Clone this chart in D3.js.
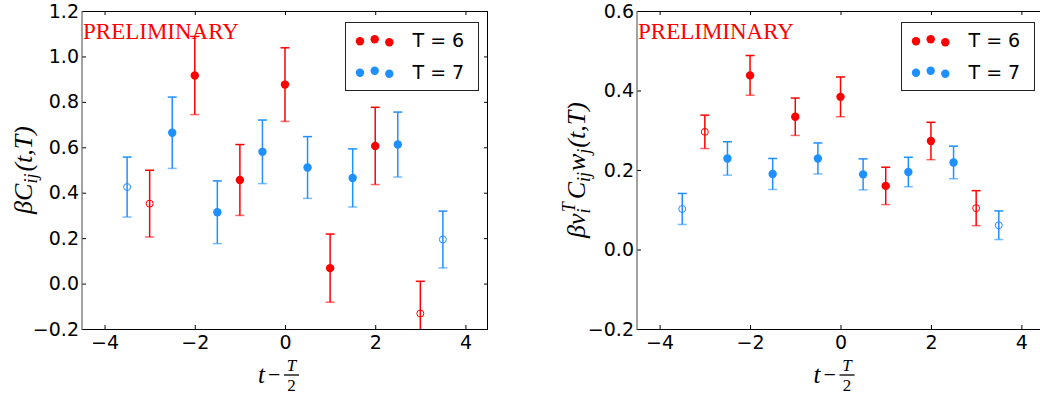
<!DOCTYPE html>
<html>
<head>
<meta charset="utf-8">
<script src="https://cdn.jsdelivr.net/npm/d3@7"></script>
<style>
  body { margin: 0; background: #fff; }
</style>
</head>
<body>
<svg id="chart" width="1040" height="399" font-family="DejaVu Sans, sans-serif"></svg>
<script>
// t - T/2 positions for each series
const tT6 = [-3, -2, -1, 0, 1, 2, 3]
const tT7 = [-3.5, -2.5, -1.5, -0.5, 0.5, 1.5, 2.5, 3.5]
// points drawn as hollow circles
const hollowT6 = [-3, 3]
const hollowT7 = [-3.5, 3.5]

// left panel: beta C_ij(t,T)
const leftT6 = [0.352, 0.916, 0.456, 0.876, 0.068, 0.606, -0.132]
const leftT6Err = [0.147, 0.172, 0.156, 0.162, 0.150, 0.170, 0.142]
const leftT7 = [0.425, 0.664, 0.314, 0.580, 0.511, 0.465, 0.612, 0.194]
const leftT7Err = [0.132, 0.157, 0.138, 0.140, 0.136, 0.128, 0.143, 0.125]

// right panel: beta v_i^T C_ij w_j(t,T)
const rightT6 = [0.296, 0.438, 0.334, 0.384, 0.160, 0.273, 0.104]
const rightT6Err = [0.042, 0.050, 0.047, 0.050, 0.047, 0.047, 0.044]
const rightT7 = [0.102, 0.229, 0.190, 0.229, 0.189, 0.195, 0.219, 0.061]
const rightT7Err = [0.039, 0.042, 0.039, 0.039, 0.039, 0.037, 0.041, 0.036]

const xTicks = [-4, -2, 0, 2, 4]
const leftYTicks = [-0.2, 0.0, 0.2, 0.4, 0.6, 0.8, 1.0, 1.2]
const rightYTicks = [-0.2, 0.0, 0.2, 0.4, 0.6]
const legendLabels = ["T = 6", "T = 7"]

const red = "#ff0000"
const blue = "#1e90ff"
const serif = "Liberation Serif, Times New Roman, serif"

const svg = d3.select("#chart")

const panels = [
  { id: "l", left: 82, right: 488, top: 11, bottom: 329, ydom: [-0.2, 1.2], yticks: leftYTicks,
    s6: leftT6, e6: leftT6Err, s7: leftT7, e7: leftT7Err, ylabX: 32 },
  { id: "r", left: 637, right: 1044, top: 11, bottom: 329, ydom: [-0.2, 0.6], yticks: rightYTicks,
    s6: rightT6, e6: rightT6Err, s7: rightT7, e7: rightT7Err, ylabX: 585 }
]

panels.forEach(p => {
  const x = d3.scaleLinear().domain([-4.5, 4.5]).range([p.left, p.right])
  const y = d3.scaleLinear().domain(p.ydom).range([p.bottom, p.top])
  const g = svg.append("g")

  // clip for data marks
  svg.append("defs").append("clipPath").attr("id", "clip-" + p.id)
    .append("rect")
    .attr("x", p.left).attr("y", p.top)
    .attr("width", p.right - p.left).attr("height", p.bottom - p.top)

  // axes, ticks pointing inward on all four sides
  const fmt = d3.format(".1f")
  const axB = g.append("g").attr("transform", `translate(0,${p.bottom})`)
    .call(d3.axisBottom(x).tickValues(xTicks).tickFormat(d3.format("d"))
      .tickSizeInner(-4).tickSizeOuter(0).tickPadding(7))
  const axT = g.append("g").attr("transform", `translate(0,${p.top})`)
    .call(d3.axisTop(x).tickValues(xTicks).tickFormat("").tickSizeInner(-4).tickSizeOuter(0))
  const axL = g.append("g").attr("transform", `translate(${p.left},0)`)
    .call(d3.axisLeft(y).tickValues(p.yticks).tickFormat(fmt)
      .tickSizeInner(-4).tickSizeOuter(0).tickPadding(3))
  const axR = g.append("g").attr("transform", `translate(${p.right},0)`)
    .call(d3.axisRight(y).tickValues(p.yticks).tickFormat("").tickSizeInner(-4).tickSizeOuter(0))

  ;[axB, axT, axL, axR].forEach(a => {
    a.attr("font-family", "DejaVu Sans, sans-serif").attr("font-size", 19)
    a.select(".domain").remove()
    a.selectAll(".tick line").attr("stroke", "#000").attr("stroke-width", 1)
    a.selectAll(".tick text").attr("fill", "#000")
  })

  // frame
  g.append("line").attr("x1", p.left).attr("x2", p.right).attr("y1", p.top + 0.5).attr("y2", p.top + 0.5)
    .attr("stroke", "#000")
  g.append("line").attr("x1", p.left).attr("x2", p.right).attr("y1", p.bottom + 0.5).attr("y2", p.bottom + 0.5)
    .attr("stroke", "#000")
  g.append("line").attr("x1", p.left).attr("x2", p.left).attr("y1", p.top).attr("y2", p.bottom + 1)
    .attr("stroke", "#666").attr("stroke-width", 1.2)
  g.append("line").attr("x1", p.right - 0.5).attr("x2", p.right - 0.5).attr("y1", p.top).attr("y2", p.bottom + 1)
    .attr("stroke", "#000")

  // error bars and markers
  const data = g.append("g").attr("clip-path", `url(#clip-${p.id})`)
  const series = [
    { t: tT6, v: p.s6, e: p.e6, c: red, hollow: hollowT6 },
    { t: tT7, v: p.s7, e: p.e7, c: blue, hollow: hollowT7 }
  ]
  series.forEach(s => {
    s.t.forEach((t, i) => {
      const cx = x(t), v = s.v[i], e = s.e[i]
      data.append("line").attr("x1", cx).attr("x2", cx)
        .attr("y1", y(v - e)).attr("y2", y(v + e))
        .attr("stroke", s.c).attr("stroke-width", 1.5)
      data.append("line").attr("x1", cx - 4.5).attr("x2", cx + 4.5)
        .attr("y1", y(v + e)).attr("y2", y(v + e))
        .attr("stroke", s.c).attr("stroke-width", 1.5)
      data.append("line").attr("x1", cx - 4.5).attr("x2", cx + 4.5)
        .attr("y1", y(v - e)).attr("y2", y(v - e))
        .attr("stroke", s.c).attr("stroke-width", 1.5).attr("stroke-opacity", 0.6)
      if (s.hollow.includes(t)) {
        data.append("circle").attr("cx", cx).attr("cy", y(v)).attr("r", 3.5)
          .attr("fill", "none").attr("stroke", s.c).attr("stroke-width", 1)
      } else {
        data.append("circle").attr("cx", cx).attr("cy", y(v)).attr("r", 4.2)
          .attr("fill", s.c)
      }
    })
  })

  // PRELIMINARY stamp
  g.append("text").attr("x", p.left + 1).attr("y", 39)
    .attr("font-family", serif)
    .attr("font-size", 23).attr("fill", red).text("PRELIMINARY")

  // legend
  const lx = p.right - 143, ly = 22
  const leg = g.append("g").attr("transform", `translate(${lx},${ly})`)
  leg.append("rect").attr("x", 0.5).attr("y", 0.5).attr("width", 133).attr("height", 68)
    .attr("fill", "#fff").attr("stroke", "#222").attr("stroke-width", 1)
  const jitter = [0.7, -1.3, 1.7]
  ;[red, blue].forEach((c, k) => {
    const rowY = 18.5 + k * 31.5
    ;[15, 29.7, 44.3].forEach((dx, j) => {
      leg.append("circle").attr("cx", dx).attr("cy", rowY + jitter[j]).attr("r", 4.2).attr("fill", c)
    })
    leg.append("text").attr("x", 67.5).attr("y", rowY + 6.5)
      .attr("font-family", "DejaVu Sans, sans-serif")
      .attr("font-size", 19).attr("fill", "#000").text(legendLabels[k])
  })

  // x label: t - T/2
  const cx = (p.left + p.right) / 2 - 3
  const xl = g.append("g").attr("font-family", serif).attr("fill", "#000")
  xl.append("text").attr("x", cx - 24).attr("y", 383).attr("font-size", 25)
    .attr("font-style", "italic").text("t")
  xl.append("text").attr("x", cx - 14).attr("y", 382).attr("font-size", 22).text("\u2212")
  xl.append("text").attr("x", cx + 9.5).attr("y", 371).attr("font-size", 17).attr("text-anchor", "middle")
    .attr("font-style", "italic").text("T")
  xl.append("line").attr("x1", cx + 2).attr("x2", cx + 17).attr("y1", 375).attr("y2", 375)
    .attr("stroke", "#000").attr("stroke-width", 1.3)
  xl.append("text").attr("x", cx + 9.5).attr("y", 391).attr("font-size", 17).attr("text-anchor", "middle")
    .text("2")

  // y label
  const yc = (p.top + p.bottom) / 2
  const yl = g.append("text")
    .attr("transform", `translate(${p.ylabX},${yc}) rotate(-90)`)
    .attr("text-anchor", "middle")
    .attr("font-family", serif)
    .attr("font-style", "italic").attr("font-size", 26).attr("fill", "#000")
  if (p.id === "l") {
    yl.append("tspan").text("\u03b2C")
    yl.append("tspan").attr("font-size", 18).attr("dy", 5).text("ij")
    yl.append("tspan").attr("dy", -5).attr("dx", 2).text("(t,T)")
  } else {
    yl.append("tspan").text("\u03b2v")
    yl.append("tspan").attr("font-size", 18).attr("dy", 5).text("i")
    yl.append("tspan").attr("font-size", 18).attr("dy", -15).attr("dx", -4).text("T")
    yl.append("tspan").attr("dy", 10).attr("dx", 3).text("C")
    yl.append("tspan").attr("font-size", 18).attr("dy", 5).text("ij")
    yl.append("tspan").attr("dy", -5).attr("dx", 1).text("w")
    yl.append("tspan").attr("font-size", 18).attr("dy", 5).text("j")
    yl.append("tspan").attr("dy", -5).attr("dx", 1).text("(t,T)")
  }
})
</script>
</body>
</html>
